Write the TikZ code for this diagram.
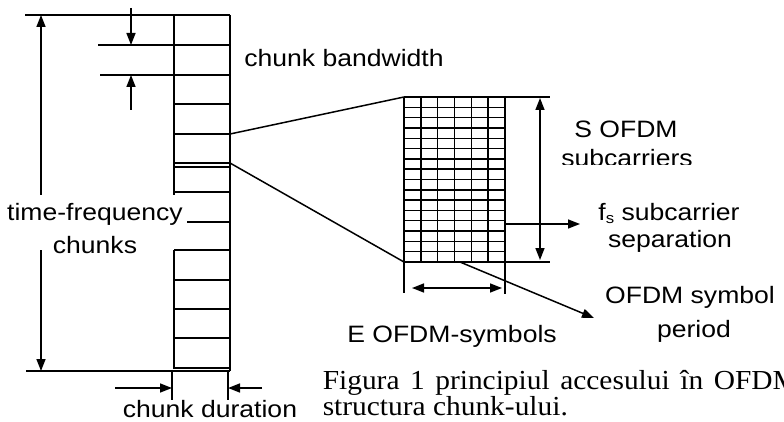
\documentclass[tikz,border=0pt]{standalone}
\usepackage{fontspec}
\setmainfont[FakeStretch=1.12]{Liberation Sans}
\newfontfamily\capfont[FakeStretch=1.07]{Liberation Serif}
\usetikzlibrary{arrows.meta}
\begin{document}
\begin{tikzpicture}[x=1pt,y=-1pt,line width=1.5pt,
  lbl/.style={font=\fontsize{23.7}{28}\selectfont,inner sep=0pt,anchor=base},
  captext/.style={font=\capfont\fontsize{27.5}{30}\selectfont,inner sep=0pt,anchor=base west},
  arr/.style={-{Triangle[length=12pt,width=9pt]}},
  darr/.style={{Triangle[length=12pt,width=9pt]}-{Triangle[length=12pt,width=9pt]}},
  gridline/.style={line width=1.4pt}]
\useasboundingbox (0,0) rectangle (784,422);

% ---- left chunk column ----
\draw (25,15) -- (230,15);
\draw (174,15) -- (174,195);
\draw (230,15) -- (230,371);
\draw (174,250) -- (174,369);
\draw (98,45) -- (230,45);
\draw (100,75) -- (230,75);
\foreach \y in {104,134,163,167,192,250,280,309,338,368}
  \draw (174,\y) -- (230,\y);
\draw (26,371) -- (230,371);

% chunk bandwidth arrows
\coordinate (bwtop) at (131,8);
\coordinate (bwa) at (131,45);
\coordinate (bwbot) at (131,110);
\coordinate (bwb) at (131,75);
\draw[arr] (bwtop) -- (bwa);
\draw[arr] (bwbot) -- (bwb);

% time-frequency chunks arrows
\coordinate (tfup) at (41,195);
\coordinate (tftop) at (41,15);
\coordinate (tfdn) at (41,250);
\coordinate (tfbot) at (41,371);
\draw[arr] (tfup) -- (tftop);
\draw[arr] (tfdn) -- (tfbot);
\draw (187,222) -- (230,222);

% chunk duration
\draw (172,371) -- (172,400);
\draw (228,371) -- (228,400);
\coordinate (cdl) at (115,388);
\coordinate (cdla) at (172,388);
\coordinate (cdr) at (262,388);
\coordinate (cdra) at (228,388);
\draw[arr] (cdl) -- (cdla);
\draw[arr] (cdr) -- (cdra);

% ---- OFDM grid ----
\foreach \i in {0,...,6}
  \draw[gridline] ({404+\i*16.833},97) -- ({404+\i*16.833},262);
\foreach \j in {0,...,16}
  \draw[gridline] (404,{97+\j*10.3125}) -- (505,{97+\j*10.3125});
\draw (404,97) -- (550,97);
\draw (404,262) -- (550,262);
\draw (404,262) -- (404,293);
\draw (505,262) -- (505,294);

% zoom lines
\coordinate (c1) at (230,134);
\coordinate (c2) at (230,163);
\coordinate (g1) at (404,97);
\coordinate (g2) at (404,262);
\draw (c1) -- (g1);
\draw (c2) -- (g2);

% grid dimension arrows
\coordinate (el) at (412,288);
\coordinate (er) at (502,288);
\draw[darr] (el) -- (er);
\coordinate (st) at (540,98);
\coordinate (sb) at (540,260);
\draw[darr] (st) -- (sb);
\coordinate (fs0) at (505,224);
\coordinate (fs1) at (580,224);
\draw[arr] (fs0) -- (fs1);
\coordinate (sp0) at (460,262);
\coordinate (sp1) at (594,318);
\draw[arr] (sp0) -- (sp1);

% ---- labels ----
\node[lbl] (bw) at (344,67) {chunk bandwidth};
\node[lbl] (tf1) at (95,220) {time-frequency};
\node[lbl] (tf2) at (95,253) {chunks};
\node[lbl] (cd) at (210,417) {chunk duration};
\node[lbl] (so) at (626,138) {S OFDM};
\begin{scope}
  \clip (545,140) rectangle (784,165);
  \node[lbl] (sc) at (627,167) {subcarriers};
\end{scope}
\node[lbl] (fs) at (669,220) {f\raisebox{-0.15em}{\fontsize{15}{15}\selectfont s} subcarrier};
\node[lbl] (sep) at (670,247) {separation};
\node[lbl] (os) at (690,303) {OFDM symbol};
\node[lbl] (per) at (694,337) {period};
\node[lbl] (eo) at (452,342) {E OFDM-symbols};
\node[captext] (cap1) at (322,389) {\makebox[476pt][s]{Figura 1 principiul accesului în OFDM}};
\node[captext] (cap2) at (322,415) {structura chunk-ului.};
\end{tikzpicture}
\end{document}
